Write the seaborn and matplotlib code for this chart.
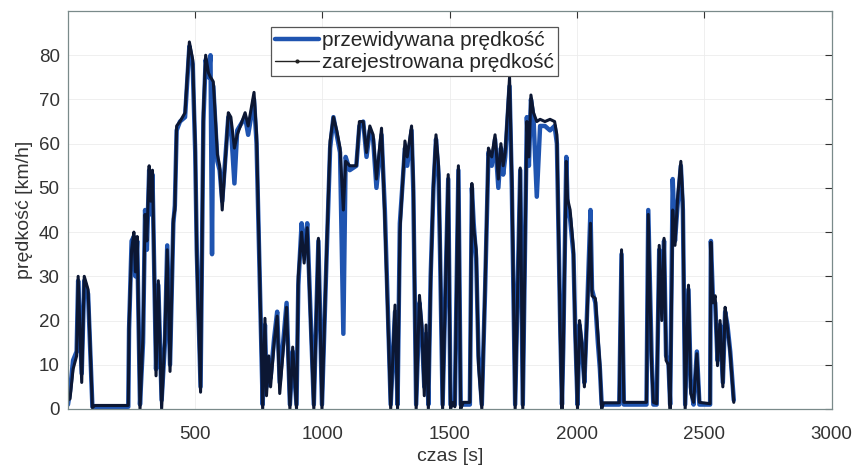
import matplotlib
matplotlib.use("Agg")
import matplotlib.pyplot as plt
import seaborn as sns
import pandas as pd
from matplotlib.lines import Line2D

# time [s]
czas = [
    0, 8, 20, 34, 40, 54, 64, 79, 96, 105,
    237, 240, 250, 259, 265, 272, 283, 295, 303, 310,
    319, 325, 332, 346, 355, 368, 381, 390, 401, 414,
    420, 427, 440, 460, 477, 490, 500, 506, 521, 532,
    541, 552, 560, 566, 571, 587, 596, 606, 630, 640,
    654, 665, 696, 708, 731, 741, 765, 774, 780, 789,
    796, 810, 822, 832, 859, 872, 883, 898, 905, 918,
    928, 940, 966, 984, 998, 1017, 1030, 1043, 1056, 1069,
    1082, 1091, 1107, 1133, 1145, 1160, 1173, 1186, 1199, 1212,
    1232, 1245, 1268, 1285, 1295, 1304, 1324, 1333, 1350, 1357,
    1368, 1381, 1390, 1400, 1407, 1416, 1425, 1436, 1446, 1456,
    1462, 1472, 1494, 1503, 1513, 1520, 1534, 1543, 1553, 1579,
    1587, 1594, 1604, 1613, 1626, 1639, 1652, 1665, 1678, 1691,
    1701, 1710, 1718, 1735, 1744, 1757, 1777, 1787, 1803, 1811,
    1819, 1829, 1842, 1855, 1874, 1894, 1912, 1921, 1934, 1941,
    1946, 1958, 1963, 1973, 1986, 1993, 2002, 2010, 2019, 2029,
    2039, 2053, 2059, 2072, 2082, 2090, 2097, 2104, 2166, 2175,
    2184, 2273, 2280, 2293, 2300, 2313, 2323, 2333, 2342, 2350,
    2359, 2366, 2376, 2385, 2395, 2408, 2416, 2425, 2438, 2447,
    2458, 2471, 2481, 2523, 2526, 2534, 2543, 2552, 2562, 2573,
    2582, 2591, 2602, 2616,
]

# recorded speed [km/h]
zarejestrowana = [
    2, 2.3, 9, 12, 30, 6, 30, 27, 0.3, 0.8,
    0.8, 19, 36, 40, 31, 39, 0, 17, 44, 38,
    55, 47, 54, 7.5, 29, 0, 17, 36, 8.5, 43,
    45, 64, 65, 67, 83, 79, 59.5, 35, 3.8, 67,
    80, 76, 75, 74.5, 74, 57.6, 55, 45, 67, 66,
    59, 62, 67, 64, 71.6, 62, 0, 20.5, 3, 12,
    5, 15, 21, 3.5, 23, 0, 14, 0, 30, 40,
    33, 41, 0, 38.6, 0, 37, 60.6, 66, 63, 59,
    45, 56, 55, 55, 65, 65, 58, 64, 62, 52,
    63.5, 43, 0, 23.5, 0, 40, 60.6, 57, 64, 51,
    0, 25.7, 19, 3, 19, 0, 29, 51, 62, 55,
    37, 0, 53, 0, 1.5, 0.5, 55, 0, 1.5, 1.5,
    51, 41, 36, 10, 0, 28, 59, 57, 62, 52,
    60, 55, 58, 75, 52, 0, 54.5, 0, 65, 57,
    71, 67, 65, 65.5, 65, 65.5, 65, 62, 17.5, 0,
    13, 56, 47.5, 45, 36, 17, 0, 20, 15, 5,
    20, 42, 25.6, 25, 17, 10, 0, 1.4, 1.4, 36,
    1.5, 1.5, 44, 10, 1.5, 1.2, 37, 20, 38.6, 11,
    10, 0, 45, 37, 47.5, 56, 47, 0, 28, 3.5,
    1.5, 12.5, 1.5, 1.2, 37.7, 24, 25.6, 9.8, 20, 5,
    23, 18.5, 12.5, 1.5,
]

# predicted speed [km/h]
przewidywana = [
    1, 4, 11, 13, 29, 8, 29, 26, 0.5, 0.5,
    0.5, 18, 38, 39, 30, 38, 1, 15, 45, 36,
    54, 44, 53, 9, 28, 2, 15, 37, 10, 42,
    46, 63, 65, 66, 82, 78, 58, 36, 5, 65,
    79, 75, 80, 35, 73, 56, 54, 47, 66, 64,
    51, 63, 66, 62, 70, 60, 1, 19, 5, 11,
    7, 16, 22, 6, 24, 1, 13, 1, 28, 42,
    35, 42, 1, 38, 1, 36, 59, 66, 62, 58,
    17, 57, 54, 55, 64, 65, 57, 63, 61, 50,
    62, 45, 1, 22, 1, 42, 59, 55, 63, 49,
    1, 24, 18, 5, 17, 1, 30, 50, 61, 53,
    35, 1, 52, 1, 1, 1, 54, 1, 1, 1,
    50, 42, 34, 12, 1, 27, 58, 55, 61, 50,
    59, 53, 57, 73, 50, 1, 54, 1, 66, 55,
    70, 66, 48, 64, 64, 63, 64, 60, 19, 1,
    14, 57, 46, 43, 35, 18, 1, 19, 14, 6,
    21, 45, 27, 24, 15, 9, 1, 1, 1, 35,
    1, 1, 45, 12, 1, 1, 36, 22, 38, 12,
    11, 1, 52, 38, 46, 55, 45, 1, 27, 5,
    1, 13, 1, 1, 38, 25, 24, 11, 19, 6,
    22, 19, 13, 2,
]

label_pred = "przewidywana prędkość"
label_rec = "zarejestrowana prędkość"

sns.set_theme(style="white")
plt.rcParams["font.family"] = ["Liberation Sans", "DejaVu Sans"]

df = pd.DataFrame({"czas": czas, "pred": przewidywana, "rec": zarejestrowana})

fig = plt.figure(figsize=(8.56, 4.72), dpi=100)
ax = fig.add_axes([0.0794, 0.1335, 0.892, 0.8432])

blue = "#1f54b0"
dark = "#0c1733"

sns.lineplot(data=df, x="czas", y="pred", ax=ax, color=blue, linewidth=3.2,
             estimator=None, sort=False)
sns.lineplot(data=df, x="czas", y="rec", ax=ax, color=dark, linewidth=2.2,
             estimator=None, sort=False)

ax.set_xlim(0, 3000)
ax.set_ylim(0, 90)
ax.set_xticks([500, 1000, 1500, 2000, 2500, 3000])
ax.set_yticks([0, 10, 20, 30, 40, 50, 60, 70, 80])
ax.grid(True, color="#ececec", linewidth=0.6)
ax.tick_params(direction="in", length=5, top=True, right=True,
               labelsize=13.5, colors="#333333", width=0.8)
ax.tick_params(axis="x", pad=12)
ax.tick_params(axis="y", pad=6)
for s in ax.spines.values():
    s.set_color("#7a8a8a")
    s.set_linewidth(0.9)

ax.set_xlabel("czas [s]", fontsize=14, color="#333333", labelpad=4)
ax.set_ylabel("prędkość [km/h]", fontsize=14, color="#333333", labelpad=4)

handles = [
    Line2D([0], [0], color=blue, linewidth=3.2),
    Line2D([0], [0], color="#222222", linewidth=1.0, marker=".", markersize=4),
]
leg = ax.legend(handles, [label_pred, label_rec], loc="upper left",
                bbox_to_anchor=(0.266, 0.96), fontsize=15, frameon=True,
                fancybox=False, edgecolor="#555555", framealpha=1,
                handlelength=2.1, handletextpad=0.15, borderpad=0.2,
                labelspacing=0.15, borderaxespad=0)
leg.get_frame().set_linewidth(0.9)

fig.savefig("out.png", dpi=100, facecolor="white")
